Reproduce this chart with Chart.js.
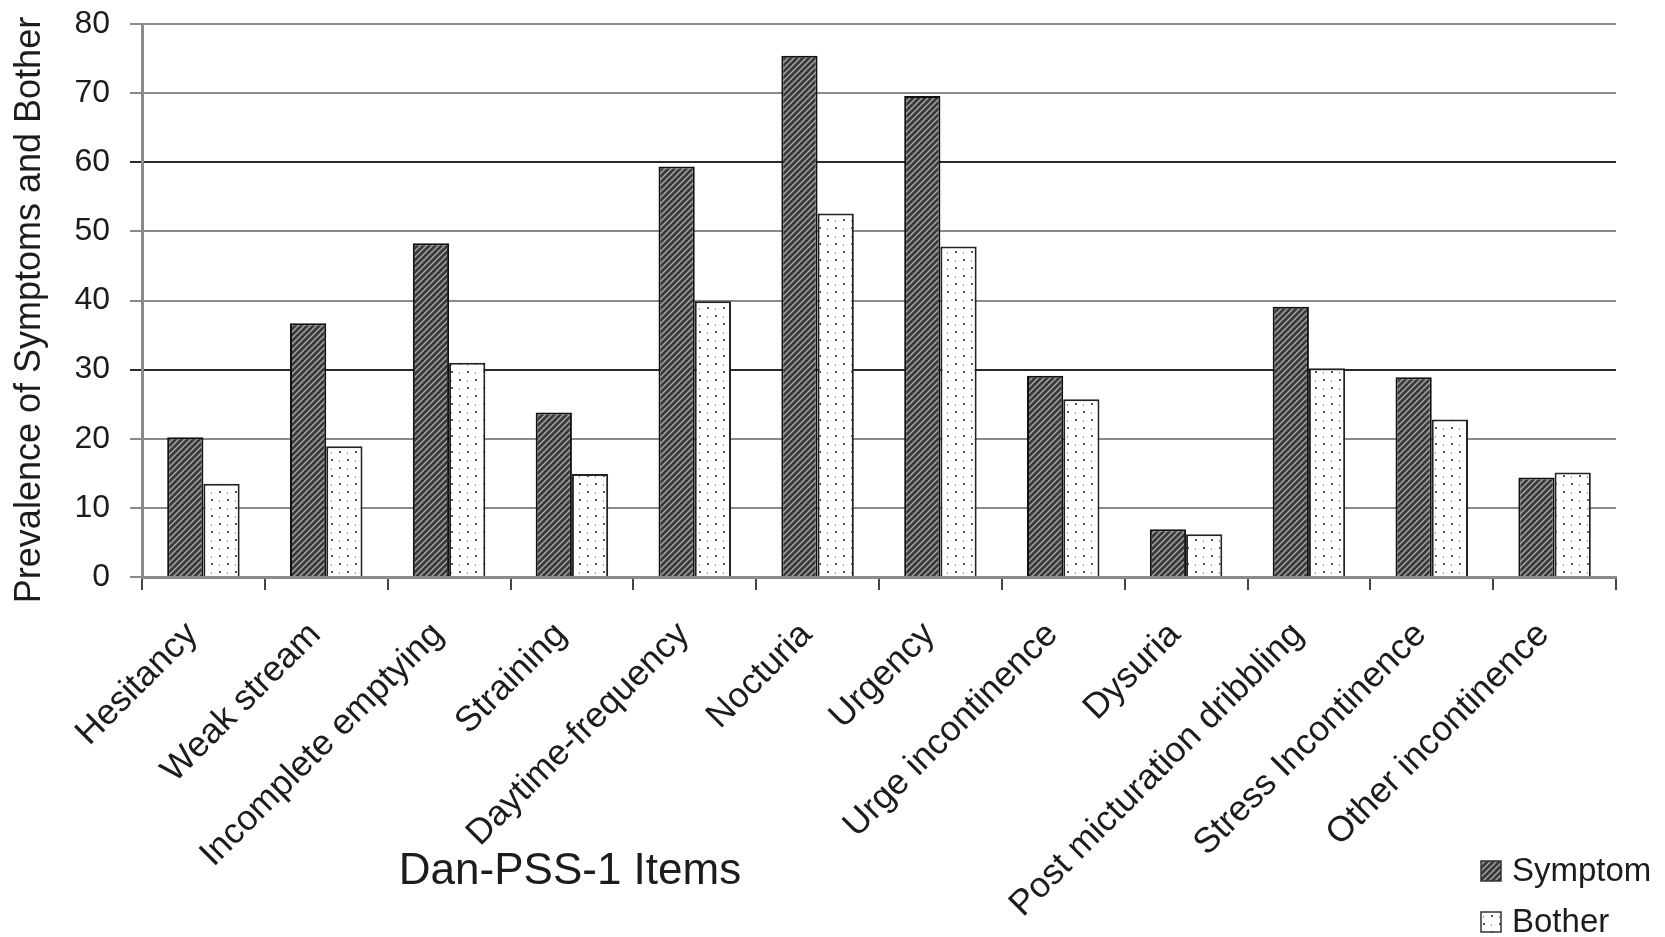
<!DOCTYPE html>
<html>
<head>
<meta charset="utf-8">
<script src="https://cdn.jsdelivr.net/npm/chart.js@4/dist/chart.umd.min.js"></script>
<style>
  html, body { margin: 0; padding: 0; background: #fff; }
  #wrap { width: 1665px; height: 937px; position: relative; }
</style>
</head>
<body>
<div id="wrap"><canvas id="c" width="1665" height="937"></canvas></div>
<script>
const categories = ["Hesitancy", "Weak stream", "Incomplete emptying", "Straining", "Daytime-frequency", "Nocturia", "Urgency", "Urge incontinence", "Dysuria", "Post micturation dribbling", "Stress Incontinence", "Other incontinence"];
const symptomValues = [20.2, 36.7, 48.3, 23.8, 59.4, 75.4, 69.6, 29.1, 6.9, 39.1, 28.9, 14.4];
const botherValues = [13.5, 18.9, 31.0, 14.9, 39.9, 52.6, 47.8, 25.7, 6.2, 30.2, 22.8, 15.1];
const seriesNames = ["Symptom", "Bother"];
const yTicks = [0, 10, 20, 30, 40, 50, 60, 70, 80];
const xTitle = "Dan-PSS-1 Items";
const yTitle = "Prevalence of Symptoms and Bother";

const FONT = "'Liberation Sans', Arial, sans-serif";
const TEXT = "#1c1c1c";

function makeHatch() {
  const c = document.createElement('canvas');
  c.width = 6; c.height = 6;
  const g = c.getContext('2d');
  g.fillStyle = '#3a3a3a';
  g.fillRect(0, 0, 6, 6);
  g.strokeStyle = '#acacac';
  g.lineWidth = 1.3;
  for (let k = -6; k <= 12; k += 6) {
    g.beginPath();
    g.moveTo(k - 1, 7);
    g.lineTo(k + 7, -1);
    g.stroke();
  }
  return g.createPattern(c, 'repeat');
}
function makeDots() {
  const c = document.createElement('canvas');
  c.width = 16; c.height = 16;
  const g = c.getContext('2d');
  g.fillStyle = '#ffffff';
  g.fillRect(0, 0, 16, 16);
  g.fillStyle = '#555';
  g.fillRect(3, 3, 2, 2);
  g.fillRect(11, 11, 2, 2);
  g.fillStyle = '#999';
  g.fillRect(11, 4, 1, 2);
  g.fillRect(3, 12, 1, 2);
  return g.createPattern(c, 'repeat');
}
const hatch = makeHatch();
const dots = makeDots();

const overlay = {
  id: 'overlay',
  afterDraw(chart) {
    const ctx = chart.ctx;
    ctx.save();
    ctx.fillStyle = TEXT;
    ctx.font = "44px " + FONT;
    ctx.textAlign = 'center';
    ctx.textBaseline = 'alphabetic';
    ctx.fillText(xTitle, 570, 884);
    // y axis title
    ctx.save();
    ctx.translate(30, 310);
    ctx.rotate(-Math.PI / 2);
    ctx.font = "36px " + FONT;
    ctx.textAlign = 'center';
    ctx.textBaseline = 'middle';
    ctx.fillText(yTitle, 0, 0);
    ctx.restore();
    // legend
    const rows = [{ y: 871, fill: hatch }, { y: 922, fill: dots }];
    ctx.font = "33px " + FONT;
    ctx.textAlign = 'left';
    ctx.textBaseline = 'middle';
    rows.forEach((r, i) => {
      ctx.fillStyle = r.fill;
      ctx.fillRect(1481, r.y - 10, 20, 20);
      ctx.strokeStyle = '#333';
      ctx.lineWidth = 1.5;
      ctx.strokeRect(1481, r.y - 10, 20, 20);
      ctx.fillStyle = TEXT;
      ctx.fillText(seriesNames[i], 1512, r.y + 1);
    });
    ctx.restore();
  }
};

new Chart(document.getElementById('c'), {
  type: 'bar',
  data: {
    labels: categories,
    datasets: [
      { label: seriesNames[0], data: symptomValues, backgroundColor: hatch, borderColor: '#111', borderWidth: 2 },
      { label: seriesNames[1], data: botherValues, backgroundColor: dots, borderColor: '#222', borderWidth: 2 }
    ]
  },
  options: {
    responsive: false,
    animation: false,
    devicePixelRatio: 1,
    layout: { padding: { top: 24, right: 49, left: 0, bottom: 0 } },
    datasets: { bar: { categoryPercentage: 0.59, barPercentage: 1.0 } },
    plugins: { legend: { display: false }, tooltip: { enabled: false } },
    scales: {
      x: {
        grid: { display: true, drawOnChartArea: false, drawTicks: true, tickLength: 13, color: '#444', lineWidth: 2, offset: true },
        border: { display: true, color: '#8a8a8a', width: 3 },
        ticks: { color: TEXT, font: { family: FONT, size: 35.5 }, minRotation: 45, maxRotation: 45, padding: 24, labelOffset: -11, autoSkip: false },
        afterFit(s) { s.height = 360; s.paddingLeft = 0; s.paddingRight = 0; }
      },
      y: {
        min: 0, max: 80,
        afterBuildTicks(s) { s.ticks = yTicks.map(v => ({ value: v })); },
        grid: {
          color: c => (c.tick && (c.tick.value === 60 || c.tick.value === 30)) ? '#2a2a2a' : '#8a8a8a',
          lineWidth: 2, tickLength: 12, drawTicks: true
        },
        border: { display: true, color: '#8a8a8a', width: 3 },
        ticks: { color: TEXT, font: { family: FONT, size: 32 }, padding: 20 },
        title: { display: false },
        afterFit(s) { s.width = 142; s.paddingTop = 0; s.paddingBottom = 0; }
      }
    }
  },
  plugins: [overlay]
});
</script>
</body>
</html>
